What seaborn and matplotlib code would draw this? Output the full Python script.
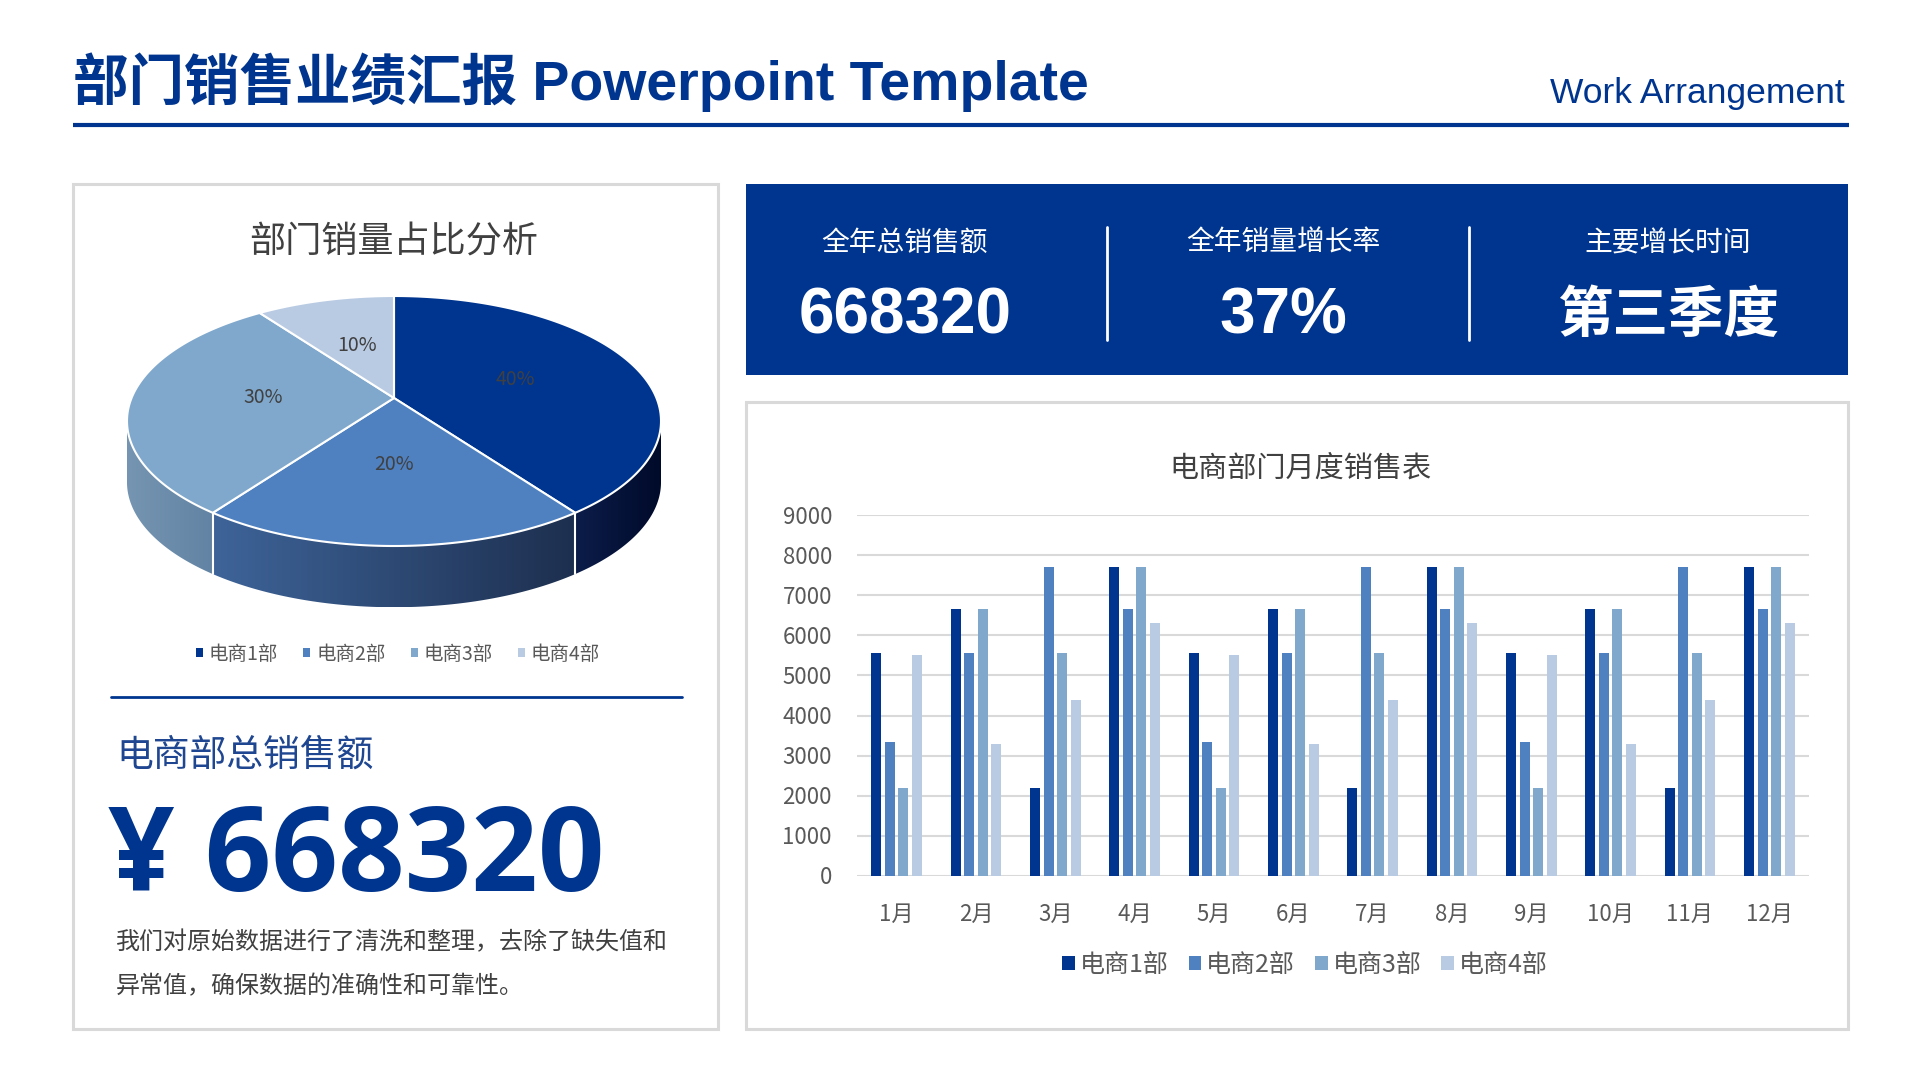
import numpy as np
import pandas as pd
import matplotlib
matplotlib.use('Agg')
import matplotlib.pyplot as plt
from matplotlib.patches import Rectangle, Patch, Polygon
from matplotlib.colors import LinearSegmentedColormap
import seaborn as sns

# ---------------- data ----------------
pie_labels = ['电商1部', '电商2部', '电商3部', '电商4部']
pie_shares = [40, 20, 30, 10]

months = ['1月', '2月', '3月', '4月', '5月', '6月', '7月', '8月', '9月', '10月', '11月', '12月']
dept1 = [5560, 6650, 2200, 7700, 5560, 6650, 2200, 7700, 5560, 6650, 2200, 7700]
dept2 = [3340, 5560, 7700, 6650, 3340, 5560, 7700, 6650, 3340, 5560, 7700, 6650]
dept3 = [2200, 6650, 5560, 7700, 2200, 6650, 5560, 7700, 2200, 6650, 5560, 7700]
dept4 = [5500, 3300, 4400, 6300, 5500, 3300, 4400, 6300, 5500, 3300, 4400, 6300]
y_ticks = [0, 1000, 2000, 3000, 4000, 5000, 6000, 7000, 8000, 9000]

kpi_titles = ['全年总销售额', '全年销量增长率', '主要增长时间']
kpi_values = ['668320', '37%', '第三季度']
total_sales = '¥ 668320'

# ---------------- style ----------------
NAVY = '#00358f'
palette = ['#00358f', '#4f81c1', '#7fa8cc', '#b9cbe3']
side_colors = [('#0c1d4a', '#000a2a'), ('#3e6499', '#1d2f4f'),
               ('#7595b2', '#6283a3'), ('#a9bcd4', '#8fa6c2')]

sns.set_theme(style='white')
plt.rcParams['font.family'] = ['Noto Sans CJK SC', 'DejaVu Sans']

W, H = 1920, 1080
fig = plt.figure(figsize=(19.2, 10.8), dpi=100)
fig.patch.set_facecolor('white')


def rect(l, t, r, b):
    return [l / W, 1 - b / H, (r - l) / W, (b - t) / H]


bg = fig.add_axes([0, 0, 1, 1])
bg.set_xlim(0, W)
bg.set_ylim(H, 0)
bg.axis('off')

# header
bg.text(73, 82, '部门销售业绩汇报 Powerpoint Template',
        fontfamily=['Liberation Sans', 'Noto Sans CJK SC'], fontweight='heavy',
        fontsize=40, color=NAVY, ha='left', va='center')
bg.text(1845, 94, 'Work Arrangement', fontfamily=['Liberation Sans'],
        fontsize=25.5, color=NAVY, ha='right', va='center')
bg.plot([73, 1849], [125, 125], color=NAVY, lw=3, solid_capstyle='butt')

# panels
bg.add_patch(Rectangle((73, 184), 645, 845, fill=False, ec='#d9d9d9', lw=2.2))
bg.add_patch(Rectangle((746, 402), 1102, 627, fill=False, ec='#d9d9d9', lw=2.2))
bg.add_patch(Rectangle((746, 184), 1102, 191, fc=NAVY, ec='none'))

# KPI panel
kpi_x = [905, 1283, 1668]
for x, t, v in zip(kpi_x, kpi_titles, kpi_values):
    bg.text(x, 243, t, fontsize=20, color='white', ha='center', va='center')
    if v[0].isdigit():
        bg.text(x, 316, v, fontfamily=['Liberation Sans', 'Noto Sans CJK SC'],
                fontweight='bold', fontsize=46, color='white', ha='center', va='center')
    else:
        bg.text(x, 316, v, fontweight='heavy', fontsize=40, color='white',
                ha='center', va='center')
for x in [1107, 1469]:
    bg.plot([x, x], [227, 340], color='white', lw=2)

# left panel texts
bg.text(394, 243, '部门销量占比分析', fontsize=26, color='#404040', ha='center', va='center')
bg.plot([111, 682], [697, 697], color=NAVY, lw=2)
bg.text(116, 755, '电商部总销售额', fontsize=26.5, color='#1f4690', ha='left', va='center')
bg.text(108, 861, total_sales, fontfamily=['Open Sans', 'Noto Sans CJK SC'],
        fontweight='bold', fontsize=84, color=NAVY, ha='left', va='center')
bg.text(116, 942, '我们对原始数据进行了清洗和整理，去除了缺失值和', fontsize=17.3,
        color='#404040', ha='left', va='center')
bg.text(116, 986, '异常值，确保数据的准确性和可靠性。', fontsize=17.3,
        color='#404040', ha='left', va='center')

# ---------------- 3D-look pie (tilted, with perspective) ----------------
PERSP = 0.184            # perspective factor of the tilted disc
KX = np.sqrt(1 - PERSP ** 2)


def proj(x, y):
    """Projective tilt: unit circle -> same ellipse, centre moved backwards."""
    x = np.asarray(x, float)
    y = np.asarray(y, float)
    d = 1 + PERSP * y
    return KX * x / d, (y + PERSP) / d


pax = fig.add_axes(rect(100.3, 283.5, 687.7, 646))
pax.set_facecolor('none')
wedges, texts, autotexts = pax.pie(
    pie_shares, colors=palette, startangle=90, counterclock=False,
    autopct='%1.0f%%', pctdistance=0.5,
    wedgeprops=dict(edgecolor='white', linewidth=1.5, zorder=3),
    textprops=dict(color='#404040', fontsize=14))

# re-project each wedge produced by ax.pie
for w in wedges:
    t = np.radians(np.linspace(w.theta1, w.theta2, 200))
    px = np.concatenate([[0], np.cos(t) * w.r])
    py = np.concatenate([[0], np.sin(t) * w.r])
    qx, qy = proj(px, py)
    pax.add_patch(Polygon(np.column_stack([qx, qy]), closed=True,
                          fc=w.get_facecolor(), ec='white', lw=1.5, zorder=3,
                          joinstyle='round'))
    w.set_visible(False)
for tx in autotexts:
    x, y = tx.get_position()
    nx, ny = proj(x, y)
    tx.set_position((float(nx), float(ny)))
    tx.set_zorder(6)

depth = 0.49
grad = np.linspace(0, 1, 256).reshape(1, -1)
for i, w in enumerate(wedges):
    t = np.radians(np.linspace(w.theta1, w.theta2, 400))
    xs, ys = proj(np.cos(t), np.sin(t))
    keep = ys <= 0
    if keep.sum() < 2:
        continue
    xs, ys = xs[keep], ys[keep]
    poly = np.concatenate([np.column_stack([xs, ys]),
                           np.column_stack([xs[::-1], ys[::-1] - depth])])
    patch = Polygon(poly, closed=True, fc='none', ec='none', zorder=1)
    pax.add_patch(patch)
    cmap = LinearSegmentedColormap.from_list('side%d' % i, list(side_colors[i]))
    im = pax.imshow(grad, extent=[xs.min(), xs.max(), ys.min() - depth, ys.max()],
                    cmap=cmap, aspect='auto', zorder=1, interpolation='bicubic')
    im.set_clip_path(patch)
    # white seam where this slice's side begins
    ang = np.radians(w.theta1)
    bx, by = proj(np.cos(ang), np.sin(ang))
    if by < 0:
        pax.plot([bx, bx], [by, by - depth], color='white', lw=1.5, zorder=2)
pax.set_aspect('auto')
pax.set_xlim(-1.1, 1.1)
pax.set_ylim(-1.8, 1.1)
pax.axis('off')

handles = [Patch(facecolor=c, edgecolor='none') for c in palette]
fig.legend(handles, pie_labels, loc='center', bbox_to_anchor=(398 / W, 1 - 654 / H),
           ncol=4, frameon=False, fontsize=14, handlelength=0.35, handleheight=0.35,
           handletextpad=0.3, columnspacing=1.3, labelcolor='#595959')

# ---------------- bar chart ----------------
bax = fig.add_axes(rect(857, 515.5, 1809, 875.5))
bax.set_facecolor('none')
df = pd.DataFrame({
    '月份': months * 4,
    '销售额': dept1 + dept2 + dept3 + dept4,
    '部门': np.repeat(pie_labels, len(months)),
})
sns.barplot(data=df, x='月份', y='销售额', hue='部门', palette=palette,
            width=0.68, gap=0.26, saturation=1, linewidth=0, ax=bax)
bax.set_ylim(0, 9000)
bax.set_yticks(y_ticks)
bax.set_xlim(-0.5, len(months) - 0.5)
bax.set_xlabel('')
bax.set_ylabel('')
for s in bax.spines.values():
    s.set_visible(False)
bax.yaxis.grid(True, color='#d9d9d9', lw=1.5)
bax.xaxis.grid(False)
bax.set_axisbelow(True)
bax.tick_params(axis='both', length=0, labelsize=16, labelcolor='#595959')
bax.tick_params(axis='x', pad=20)
bax.tick_params(axis='y', pad=18)
h, l = bax.get_legend_handles_labels()
bax.legend(h, l, loc='center', bbox_to_anchor=(1305 / W, 1 - 965 / H),
           bbox_transform=fig.transFigure, ncol=4, frameon=False, fontsize=18,
           handlelength=0.5, handleheight=0.5, handletextpad=0.2,
           columnspacing=0.8, labelcolor='#595959')
bg.text(1300, 469, '电商部门月度销售表', fontsize=21, color='#404040', ha='center', va='center')

fig.savefig('out.png', dpi=100, facecolor='white')
